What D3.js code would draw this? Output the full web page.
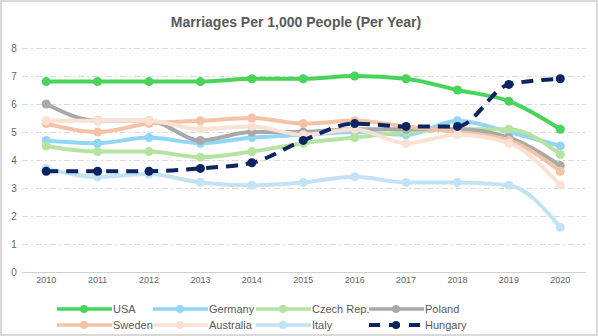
<!DOCTYPE html>
<html>
<head>
<meta charset="utf-8">
<script src="https://cdn.jsdelivr.net/npm/d3@7"></script>
<style>
  html, body { margin: 0; padding: 0; background: #fff; }
  #chart { width: 598px; height: 336px; }
  text { font-family: "Liberation Sans", Arial, sans-serif; }
</style>
</head>
<body>
<div id="chart"></div>
<script>
// Marriage rates per 1,000 people, 2010-2020
const years = [2010, 2011, 2012, 2013, 2014, 2015, 2016, 2017, 2018, 2019, 2020];
const yTicks = [0, 1, 2, 3, 4, 5, 6, 7, 8];

const usa       = [6.8, 6.8, 6.8, 6.8, 6.9, 6.9, 7.0, 6.9, 6.5, 6.1, 5.1];
const germany   = [4.7, 4.6, 4.8, 4.6, 4.8, 4.9, 5.0, 4.9, 5.4, 5.0, 4.5];
const czech     = [4.5, 4.3, 4.3, 4.1, 4.3, 4.6, 4.8, 5.0, 5.1, 5.1, 4.2];
const poland    = [6.0, 5.4, 5.4, 4.7, 5.0, 5.0, 5.1, 5.1, 5.1, 4.8, 3.8];
const sweden    = [5.3, 5.0, 5.3, 5.4, 5.5, 5.3, 5.4, 5.2, 5.0, 4.7, 3.6];
const australia = [5.4, 5.4, 5.4, 5.1, 5.2, 4.9, 5.1, 4.6, 4.9, 4.6, 3.1];
const italy     = [3.7, 3.4, 3.5, 3.2, 3.1, 3.2, 3.4, 3.2, 3.2, 3.1, 1.6];
const hungary   = [3.6, 3.6, 3.6, 3.7, 3.9, 4.7, 5.3, 5.2, 5.2, 6.7, 6.9];

const seriesNames = ["USA", "Germany", "Czech Rep.", "Poland", "Sweden", "Australia", "Italy", "Hungary"];
const seriesValues = [usa, germany, czech, poland, sweden, australia, italy, hungary];
const seriesColors = ["#48d35a", "#92d6f6", "#b4e4a0", "#a9a9a9", "#f5c2a6", "#fbe1d3", "#c2e3f4", "#0b2560"];

const width = 598, height = 336;
const margin = {top: 48, right: 12, bottom: 64, left: 20};

const svg = d3.select("#chart")
    .append("svg")
    .attr("width", width)
    .attr("height", height);

// Outer frame
svg.append("rect")
    .attr("x", 1).attr("y", 1)
    .attr("width", width - 2).attr("height", height - 2)
    .attr("fill", "#fff")
    .attr("stroke", "#d9d9d9")
    .attr("stroke-width", 2);

// Scales
const x = d3.scalePoint()
    .domain(years)
    .range([margin.left + 0.5, width - margin.right])
    .padding(0.5);
const y = d3.scaleLinear()
    .domain([0, 8])
    .range([height - margin.bottom, margin.top]);

// Title
svg.append("text")
    .attr("x", 296)
    .attr("y", 27)
    .attr("text-anchor", "middle")
    .style("font-size", "14px")
    .style("font-weight", "bold")
    .attr("fill", "#595959")
    .text("Marriages Per 1,000 People (Per Year)");

// Horizontal grid
svg.append("g")
    .selectAll("line")
    .data(yTicks.filter(d => d > 0))
    .join("line")
    .attr("x1", margin.left + 2)
    .attr("x2", width - margin.right)
    .attr("y1", d => Math.round(y(d)) + 0.5)
    .attr("y2", d => Math.round(y(d)) + 0.5)
    .attr("stroke", "#d9d9d9")
    .attr("stroke-dasharray", "6,3,2,3");

// X axis baseline
svg.append("line")
    .attr("x1", margin.left + 2)
    .attr("x2", width - margin.right)
    .attr("y1", Math.round(y(0)) + 0.5)
    .attr("y2", Math.round(y(0)) + 0.5)
    .attr("stroke", "#d0d0d0");

// Y tick labels
svg.append("g")
    .selectAll("text")
    .data(yTicks)
    .join("text")
    .attr("x", 14)
    .attr("y", d => y(d) + 4)
    .attr("text-anchor", "middle")
    .style("font-size", "10px")
    .attr("fill", "#666")
    .text(d => d);

// X tick labels
svg.append("g")
    .selectAll("text")
    .data(years)
    .join("text")
    .attr("x", d => x(d))
    .attr("y", y(0) + 11)
    .attr("text-anchor", "middle")
    .style("font-size", "9px")
    .attr("fill", "#666")
    .text(d => d);

const line = d3.line()
    .x((d, i) => x(years[i]))
    .y(d => y(d))
    .curve(d3.curveMonotoneX);

// Lines and markers, drawn in legend order
seriesValues.forEach((vals, k) => {
    const g = svg.append("g");
    const dashed = seriesNames[k] === "Hungary";
    g.append("path")
        .datum(vals)
        .attr("fill", "none")
        .attr("stroke", seriesColors[k])
        .attr("stroke-width", 4)
        .attr("stroke-dasharray", dashed ? "12,8" : null)
        .attr("d", line);
    g.selectAll("circle")
        .data(vals)
        .join("circle")
        .attr("cx", (d, i) => x(years[i]))
        .attr("cy", d => y(d))
        .attr("r", 4.5)
        .attr("fill", seriesColors[k]);
});

// Legend
const legendCols = [57, 153, 256, 369];
const legendRows = [309, 325];
const legend = svg.append("g");
seriesNames.forEach((name, k) => {
    const lx = legendCols[k % 4];
    const ly = legendRows[Math.floor(k / 4)];
    const dashed = name === "Hungary";
    const item = legend.append("g");
    item.append("line")
        .attr("x1", lx).attr("x2", lx + 55)
        .attr("y1", ly).attr("y2", ly)
        .attr("stroke", seriesColors[k])
        .attr("stroke-width", dashed ? 4 : 3.5)
        .attr("stroke-dasharray", dashed ? "11,9" : null);
    item.append("circle")
        .attr("cx", lx + 27).attr("cy", ly)
        .attr("r", 4)
        .attr("fill", seriesColors[k]);
    item.append("text")
        .attr("x", lx + 56)
        .attr("y", ly + 4)
        .style("font-size", "11px")
        .attr("fill", "#595959")
        .text(name);
});
</script>
</body>
</html>
